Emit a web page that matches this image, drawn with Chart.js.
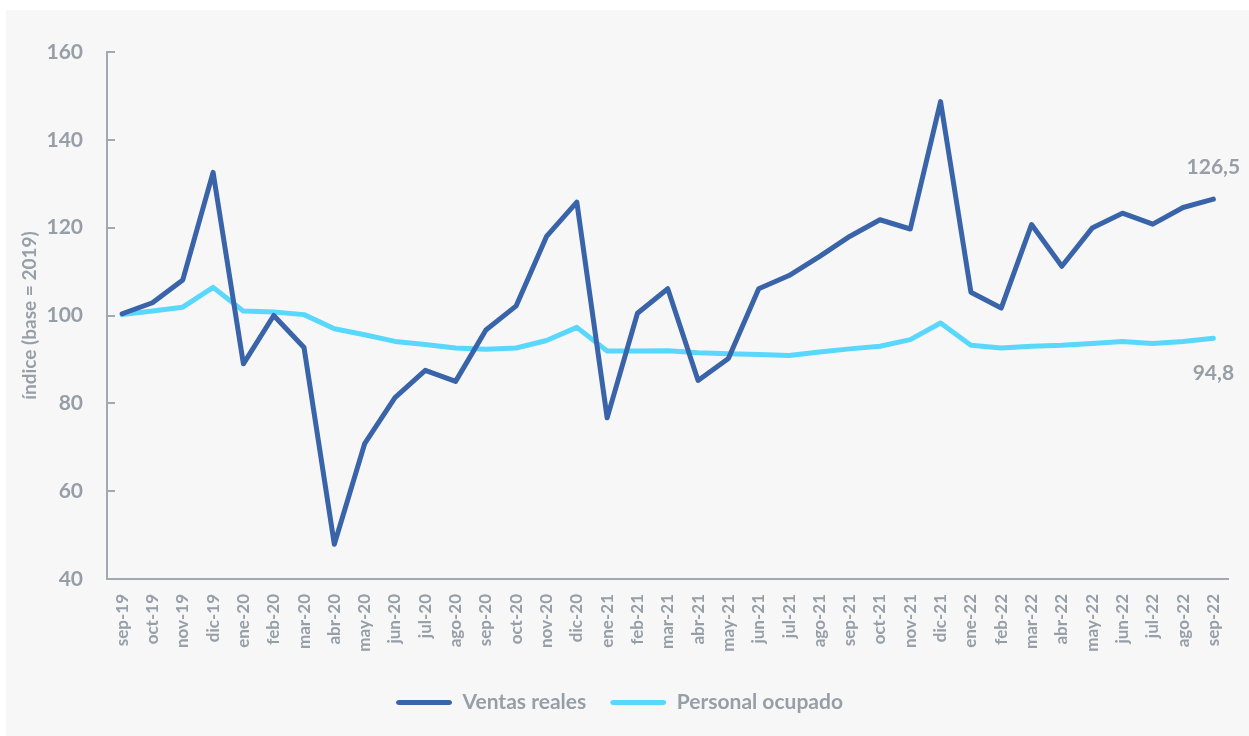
<!DOCTYPE html>
<html>
<head>
<meta charset="utf-8">
<script src="https://cdn.jsdelivr.net/npm/chart.js@4"></script>
<style>
  html, body { margin: 0; padding: 0; background: #ffffff; width: 1249px; height: 736px; overflow: hidden; }
  #panel { position: absolute; left: 6px; top: 10px; width: 1243px; height: 726px; background: #f7f7f7; }
</style>
</head>
<body>
<div id="panel"><canvas id="c"></canvas></div>
<script>
const categories = ["sep-19","oct-19","nov-19","dic-19","ene-20","feb-20","mar-20","abr-20","may-20","jun-20","jul-20","ago-20","sep-20","oct-20","nov-20","dic-20","ene-21","feb-21","mar-21","abr-21","may-21","jun-21","jul-21","ago-21","sep-21","oct-21","nov-21","dic-21","ene-22","feb-22","mar-22","abr-22","may-22","jun-22","jul-22","ago-22","sep-22"];
const ventasReales = [100.4,102.9,108.1,132.6,89.0,100.0,92.7,47.9,70.8,81.3,87.5,85.0,96.7,102.2,118.0,125.8,76.7,100.5,106.1,85.2,90.2,106.1,109.1,113.4,118.0,121.8,119.7,148.7,105.3,101.7,120.7,111.2,119.9,123.3,120.8,124.6,126.5];
const personalOcupado = [100.2,101.0,101.9,106.4,101.0,100.8,100.2,97.0,95.6,94.1,93.4,92.6,92.3,92.6,94.3,97.3,91.9,91.9,92.0,91.5,91.3,91.1,90.9,91.7,92.4,93.0,94.5,98.3,93.2,92.6,93.0,93.2,93.6,94.1,93.6,94.1,94.8];
const yTicks = [40, 60, 80, 100, 120, 140, 160];
const lastLabels = ["126,5", "94,8"];

const GRAY = '#969ea7';
const AXIS = '#a3a9b0';
const FONT = 'Lato';

const innerTicks = {
  id: 'innerTicks',
  afterDraw(chart) {
    const y = chart.scales.y;
    const ctx = chart.ctx;
    ctx.save();
    ctx.strokeStyle = AXIS;
    ctx.lineWidth = 2;
    yTicks.forEach(v => {
      const py = Math.round(y.getPixelForValue(v));
      ctx.beginPath();
      ctx.moveTo(chart.chartArea.left, py);
      ctx.lineTo(chart.chartArea.left + 8, py);
      ctx.stroke();
    });
    ctx.restore();
  }
};

const endLabels = {
  id: 'endLabels',
  afterDatasetsDraw(chart) {
    const ctx = chart.ctx;
    ctx.save();
    ctx.fillStyle = GRAY;
    ctx.font = 'bold 21px ' + FONT;
    ctx.textAlign = 'center';
    ctx.textBaseline = 'middle';
    const m0 = chart.getDatasetMeta(0).data;
    const p0 = m0[m0.length - 1];
    ctx.fillText(lastLabels[0], p0.x, p0.y - 32);
    const m1 = chart.getDatasetMeta(1).data;
    const p1 = m1[m1.length - 1];
    ctx.fillText(lastLabels[1], p1.x, p1.y + 35);
    ctx.restore();
  }
};

new Chart(document.getElementById('c'), {
  type: 'line',
  data: {
    labels: categories,
    datasets: [
      { label: 'Ventas reales', data: ventasReales, borderColor: '#3a64a9', backgroundColor: '#3a64a9',
        borderWidth: 5, pointRadius: 0, tension: 0, borderCapStyle: 'round', borderJoinStyle: 'round' },
      { label: 'Personal ocupado', data: personalOcupado, borderColor: '#59d7fd', backgroundColor: '#59d7fd',
        borderWidth: 5, pointRadius: 0, tension: 0, borderCapStyle: 'round', borderJoinStyle: 'round' }
    ]
  },
  options: {
    responsive: true,
    maintainAspectRatio: false,
    animation: false,
    layout: { padding: { top: 42, right: 16, left: 0, bottom: 13 } },
    plugins: {
      tooltip: { enabled: false },
      legend: {
        position: 'bottom',
        labels: {
          color: GRAY,
          font: { family: FONT, size: 21, weight: 'bold' },
          boxWidth: 56,
          boxHeight: 5,
          padding: 24,
          useBorderRadius: true,
          borderRadius: 3,
          generateLabels(chart) {
            return chart.data.datasets.map((ds, i) => ({
              text: ds.label, fillStyle: ds.borderColor, strokeStyle: ds.borderColor,
              lineWidth: 0, hidden: false, datasetIndex: i, fontColor: GRAY, borderRadius: 3
            }));
          }
        }
      }
    },
    scales: {
      x: {
        offset: true,
        grid: { display: false, drawTicks: false },
        border: { display: true, color: AXIS, width: 2 },
        ticks: {
          color: GRAY, font: { family: FONT, size: 17, weight: 'bold' },
          minRotation: 90, maxRotation: 90, autoSkip: false, padding: 15
        },
        afterFit(s) { s.height = 89; }
      },
      y: {
        min: 40, max: 160,
        grid: { display: false, drawTicks: false },
        border: { display: true, color: AXIS, width: 2 },
        ticks: {
          stepSize: 20, color: GRAY, font: { family: FONT, size: 21, weight: 'bold' }, padding: 24,
          callback: (v) => yTicks.includes(v) ? String(v) : ''
        },
        title: {
          display: true, text: 'índice (base = 2019)', color: GRAY,
          font: { family: FONT, size: 19, weight: 'bold' }, padding: { top: 12, bottom: 0 }
        },
        afterFit(s) { s.width = 101; }
      }
    }
  },
  plugins: [innerTicks, endLabels]
});
</script>
</body>
</html>
